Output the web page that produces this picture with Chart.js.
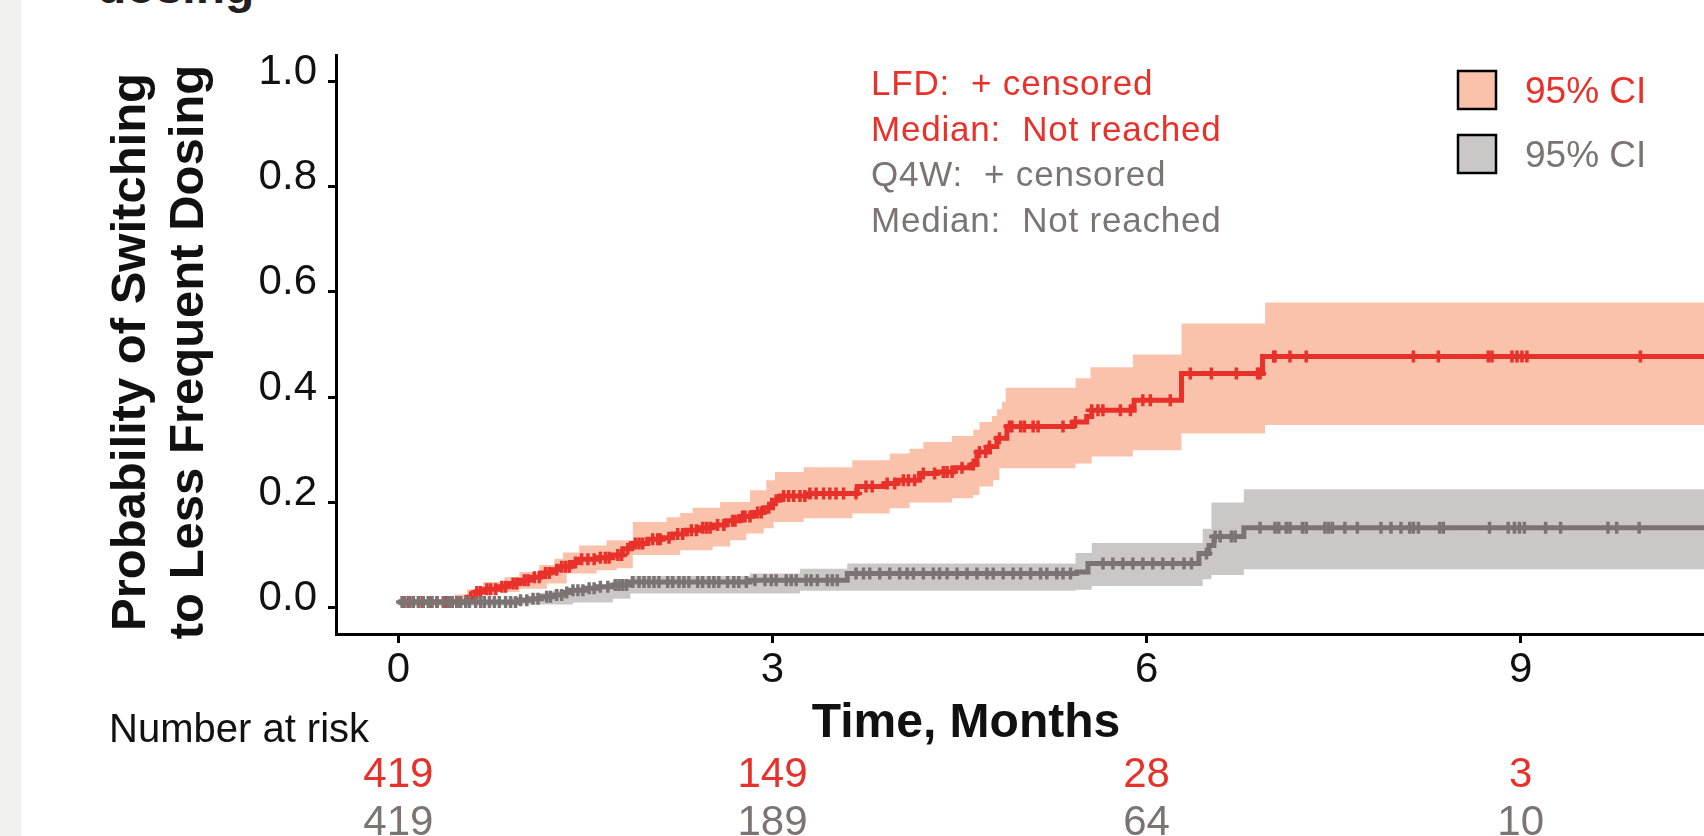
<!DOCTYPE html>
<html>
<head>
<meta charset="utf-8">
<script src="https://cdn.jsdelivr.net/npm/chart.js@4.4.1/dist/chart.umd.min.js"></script>
<style>
  html, body { margin: 0; padding: 0; background: #fff; overflow: hidden; }
  body { width: 1704px; height: 836px; position: relative; font-family: 'Liberation Sans', Arial, sans-serif; }
  #strip { position: absolute; left: 0; top: 0; width: 21px; height: 836px; background: #f1f1ef; }
  #title { position: absolute; left: 97px; top: -37px; font-size: 48px; line-height: 48px; font-weight: bold; color: #231f20; white-space: nowrap; }
  #kmChart { position: absolute; left: 0; top: 0; }
</style>
</head>
<body>
<div id="strip"></div>
<div id="title">dosing</div>
<canvas id="kmChart" width="1704" height="836"></canvas>
<script>
// Kaplan-Meier estimates, cumulative probability of switching
const lfdTime = [0, 0.55, 0.62, 0.70, 0.80, 0.88, 0.97, 1.05, 1.14, 1.22, 1.30, 1.38, 1.45, 1.60, 1.72, 1.80, 1.87, 2.00, 2.12, 2.20, 2.31, 2.42, 2.52, 2.63, 2.74, 2.84, 2.93, 3.00, 3.06, 3.30, 3.68, 3.90, 4.00, 4.18, 4.32, 4.45, 4.60, 4.64, 4.74, 4.80, 4.88, 5.41, 5.52, 5.56, 5.90, 6.28, 6.93, 10.6];
const lfdProb = [0.011, 0.02, 0.03, 0.035, 0.04, 0.046, 0.052, 0.058, 0.066, 0.072, 0.078, 0.086, 0.092, 0.095, 0.100, 0.112, 0.122, 0.130, 0.133, 0.140, 0.147, 0.152, 0.157, 0.165, 0.173, 0.181, 0.190, 0.204, 0.212, 0.217, 0.230, 0.236, 0.242, 0.255, 0.258, 0.266, 0.272, 0.296, 0.306, 0.322, 0.344, 0.353, 0.363, 0.375, 0.394, 0.445, 0.477, 0.477];

const lfdUpTime = [0, 0.45, 0.55, 0.68, 0.85, 0.97, 1.13, 1.25, 1.32, 1.45, 1.67, 1.88, 2.15, 2.26, 2.36, 2.58, 2.82, 2.95, 3.02, 3.25, 3.64, 3.94, 4.10, 4.21, 4.44, 4.61, 4.66, 4.76, 4.80, 4.84, 4.87, 5.43, 5.55, 5.89, 6.28, 6.95, 10.6];
const lfdUpper = [0.011, 0.025, 0.035, 0.049, 0.058, 0.068, 0.081, 0.093, 0.105, 0.118, 0.128, 0.163, 0.172, 0.180, 0.190, 0.201, 0.223, 0.242, 0.258, 0.267, 0.280, 0.293, 0.302, 0.315, 0.326, 0.338, 0.353, 0.364, 0.377, 0.391, 0.418, 0.436, 0.457, 0.481, 0.540, 0.580, 0.580];
const lfdLowTime = [0, 0.55, 0.65, 0.80, 0.97, 1.19, 1.35, 1.59, 1.75, 1.88, 2.26, 2.52, 2.66, 2.79, 2.93, 3.01, 3.25, 3.64, 3.94, 4.10, 4.44, 4.61, 4.66, 4.77, 4.82, 5.43, 5.56, 5.89, 6.28, 6.95, 10.6];
const lfdLower = [0.005, 0.012, 0.024, 0.030, 0.036, 0.046, 0.065, 0.071, 0.075, 0.100, 0.109, 0.116, 0.128, 0.141, 0.151, 0.163, 0.170, 0.179, 0.189, 0.200, 0.208, 0.214, 0.230, 0.242, 0.265, 0.274, 0.287, 0.299, 0.331, 0.347, 0.347];

const q4wTime = [0, 0.95, 1.05, 1.15, 1.24, 1.32, 1.38, 1.50, 1.59, 1.72, 1.86, 2.82, 3.60, 5.44, 5.53, 6.42, 6.50, 6.54, 6.78, 10.6];
const q4wProb = [0.011, 0.014, 0.017, 0.021, 0.024, 0.029, 0.033, 0.037, 0.040, 0.043, 0.049, 0.052, 0.065, 0.068, 0.084, 0.103, 0.118, 0.135, 0.152, 0.152];

const q4wUpTime = [0, 0.90, 1.10, 1.24, 1.45, 1.72, 1.86, 2.82, 3.22, 3.60, 5.43, 5.56, 6.45, 6.52, 6.78, 10.6];
const q4wUpper = [0.015, 0.020, 0.028, 0.033, 0.040, 0.052, 0.060, 0.065, 0.074, 0.084, 0.104, 0.123, 0.150, 0.200, 0.225, 0.225];
const q4wLowTime = [0, 1.00, 1.40, 1.72, 1.86, 3.22, 5.43, 5.56, 6.45, 6.52, 6.78, 10.6];
const q4wLower = [0.004, 0.006, 0.010, 0.017, 0.027, 0.032, 0.034, 0.041, 0.054, 0.062, 0.073, 0.073];

// censoring times (months)
const lfdCensor = [0.08, 0.12, 0.19, 0.25, 0.31, 0.38, 0.43, 0.47, 0.58, 0.63, 0.66, 0.71, 0.74, 0.78, 0.83, 0.86, 0.92, 0.95, 1.01, 1.04, 1.09, 1.13, 1.18, 1.21, 1.27, 1.31, 1.34, 1.37, 1.42, 1.47, 1.52, 1.57, 1.62, 1.66, 1.69, 1.76, 1.79, 1.84, 1.90, 1.93, 1.96, 2.04, 2.08, 2.10, 2.17, 2.24, 2.28, 2.35, 2.39, 2.44, 2.47, 2.50, 2.56, 2.61, 2.68, 2.70, 2.76, 2.78, 2.82, 2.88, 2.91, 2.97, 3.03, 3.09, 3.13, 3.17, 3.22, 3.26, 3.30, 3.35, 3.41, 3.46, 3.51, 3.57, 3.67, 3.75, 3.80, 3.92, 3.98, 4.05, 4.09, 4.14, 4.21, 4.30, 4.37, 4.40, 4.44, 4.52, 4.61, 4.66, 4.71, 4.74, 4.82, 4.90, 4.92, 4.99, 5.02, 5.09, 5.13, 5.33, 5.43, 5.56, 5.61, 5.65, 5.79, 5.87, 5.97, 6.03, 6.19, 6.35, 6.52, 6.72, 6.89, 6.91, 7.02, 7.03, 7.15, 7.28, 8.14, 8.34, 8.74, 8.77, 8.93, 8.97, 9.01, 9.05, 9.96];
const q4wCensor = [0.03, 0.05, 0.09, 0.12, 0.16, 0.20, 0.24, 0.27, 0.31, 0.36, 0.40, 0.43, 0.47, 0.50, 0.54, 0.57, 0.62, 0.66, 0.69, 0.73, 0.77, 0.81, 0.86, 0.90, 0.94, 0.98, 1.03, 1.08, 1.12, 1.19, 1.22, 1.27, 1.31, 1.35, 1.40, 1.44, 1.48, 1.53, 1.57, 1.62, 1.68, 1.74, 1.77, 1.80, 1.83, 1.88, 1.93, 1.97, 2.01, 2.05, 2.09, 2.16, 2.20, 2.25, 2.29, 2.33, 2.40, 2.44, 2.49, 2.53, 2.57, 2.64, 2.69, 2.73, 2.79, 2.86, 2.94, 2.99, 3.03, 3.11, 3.15, 3.19, 3.27, 3.31, 3.36, 3.44, 3.48, 3.52, 3.67, 3.73, 3.78, 3.86, 3.94, 4.02, 4.08, 4.13, 4.21, 4.29, 4.34, 4.40, 4.48, 4.56, 4.64, 4.72, 4.77, 4.85, 4.93, 4.99, 5.07, 5.15, 5.20, 5.28, 5.33, 5.39, 5.65, 5.73, 5.81, 5.89, 5.97, 6.05, 6.13, 6.21, 6.30, 6.36, 6.48, 6.55, 6.59, 6.68, 6.71, 6.91, 7.03, 7.06, 7.12, 7.15, 7.25, 7.28, 7.43, 7.46, 7.49, 7.59, 7.69, 7.88, 7.96, 8.04, 8.11, 8.14, 8.18, 8.35, 8.38, 8.75, 8.90, 8.95, 8.99, 9.03, 9.20, 9.32, 9.70, 9.77, 9.95];

// axes and number at risk
const xTicks = [0, 3, 6, 9];
const yTicks = [0, 0.2, 0.4, 0.6, 0.8, 1.0];
const lfdRisk = [419, 149, 28, 3];
const q4wRisk = [419, 189, 64, 10];

const lfdNotes = ['LFD:  + censored', 'Median:  Not reached'];
const q4wNotes = ['Q4W:  + censored', 'Median:  Not reached'];
const ciLabel = '95% CI';

const RED = '#e8312a';
const RED_BAND = '#fbc2ab';
const GRAY = '#7b7472';
const GRAY_BAND = '#ccc7c7';
const FONT = "'Liberation Sans', Arial, sans-serif";

const toPoints = (xs, ys) => xs.map((x, i) => ({ x: x, y: ys[i] }));

const stepAt = (times, vals, t) => {
    let v = vals[0];
    for (let i = 0; i < times.length; i++) {
        if (times[i] <= t) v = vals[i];
    }
    return v;
};

const censorPoints = (censor, times, vals) => censor.map(t => ({ x: t, y: stepAt(times, vals, t) }));

const stepLine = (data, color, order) => ({
    data: data,
    borderColor: color,
    borderWidth: 5,
    stepped: true,
    pointRadius: 0,
    fill: false,
    order: order
});

const band = (data, color, fill, order) => ({
    data: data,
    borderWidth: 0,
    borderColor: 'transparent',
    backgroundColor: color,
    stepped: true,
    pointRadius: 0,
    fill: fill,
    order: order
});

const censorSet = (data, color, order) => ({
    data: data,
    showLine: false,
    pointStyle: 'cross',
    pointRadius: 6,
    pointBorderWidth: 3.5,
    pointBorderColor: color,
    pointBackgroundColor: color,
    order: order
});

// texts around the plot: axis titles, notes, CI legend, number at risk
const annotations = {
    id: 'annotations',
    afterDraw(chart) {
        const ctx = chart.ctx;
        const x = chart.scales.x;
        ctx.save();

        ctx.fillStyle = '#111';
        ctx.font = `bold 49px ${FONT}`;
        ctx.textAlign = 'center';
        ctx.textBaseline = 'alphabetic';
        const yTitle = ['Probability of Switching', 'to Less Frequent Dosing'];
        [145, 203].forEach((bx, i) => {
            ctx.save();
            ctx.translate(bx, 352);
            ctx.rotate(-Math.PI / 2);
            ctx.fillText(yTitle[i], 0, 0);
            ctx.restore();
        });

        ctx.font = `bold 48px ${FONT}`;
        ctx.fillText('Time, Months', 966, 737);

        ctx.textAlign = 'left';
        ctx.font = `40px ${FONT}`;
        ctx.fillText('Number at risk', 109, 742);

        ctx.textAlign = 'center';
        ctx.font = `42px ${FONT}`;
        xTicks.forEach((t, i) => {
            const px = x.getPixelForValue(t);
            ctx.fillStyle = RED;
            ctx.fillText(String(lfdRisk[i]), px, 787);
            ctx.fillStyle = GRAY;
            ctx.fillText(String(q4wRisk[i]), px, 835);
        });

        ctx.textAlign = 'left';
        ctx.font = `35px ${FONT}`;
        ctx.letterSpacing = '0.8px';
        const notes = lfdNotes.map(s => [s, RED]).concat(q4wNotes.map(s => [s, GRAY]));
        notes.forEach((n, i) => {
            ctx.fillStyle = n[1];
            ctx.fillText(n[0], 871, 95 + i * 45.6);
        });

        ctx.font = `37px ${FONT}`;
        ctx.letterSpacing = '0px';
        [[RED_BAND, RED], [GRAY_BAND, GRAY]].forEach((c, i) => {
            const top = 71 + i * 64;
            ctx.fillStyle = c[0];
            ctx.fillRect(1458, top, 38, 38);
            ctx.strokeStyle = '#000';
            ctx.lineWidth = 2.5;
            ctx.strokeRect(1458, top, 38, 38);
            ctx.fillStyle = c[1];
            ctx.fillText(ciLabel, 1525, top + 32);
        });

        ctx.restore();
    }
};

new Chart(document.getElementById('kmChart'), {
    type: 'line',
    data: {
        datasets: [
            band(toPoints(lfdUpTime, lfdUpper), RED_BAND, '+1', 6),
            band(toPoints(lfdLowTime, lfdLower), RED_BAND, false, 6),
            band(toPoints(q4wUpTime, q4wUpper), GRAY_BAND, '+1', 5),
            band(toPoints(q4wLowTime, q4wLower), GRAY_BAND, false, 5),
            stepLine(toPoints(lfdTime, lfdProb), RED, 3),
            censorSet(censorPoints(lfdCensor, lfdTime, lfdProb), RED, 2),
            stepLine(toPoints(q4wTime, q4wProb), GRAY, 1),
            censorSet(censorPoints(q4wCensor, q4wTime, q4wProb), GRAY, 0)
        ]
    },
    options: {
        responsive: false,
        animation: false,
        events: [],
        layout: {
            autoPadding: false,
            padding: { top: 55, right: 0, bottom: 142, left: 0 }
        },
        plugins: {
            legend: { display: false },
            tooltip: { enabled: false }
        },
        scales: {
            x: {
                type: 'linear',
                min: -0.5,
                max: 10.47,
                afterBuildTicks: scale => { scale.ticks = xTicks.map(v => ({ value: v })); },
                afterFit: scale => {
                    scale.height = 60;
                    scale.paddingLeft = 0;
                    scale.paddingRight = 0;
                },
                border: { display: true, color: '#000', width: 3 },
                grid: { drawOnChartArea: false, drawTicks: true, tickLength: 9, tickWidth: 3, tickColor: '#000' },
                ticks: {
                    color: '#111',
                    padding: 2,
                    maxRotation: 0,
                    font: { family: FONT, size: 42 },
                    callback: v => String(v)
                }
            },
            y: {
                min: -0.05,
                max: 1.05,
                afterBuildTicks: scale => { scale.ticks = yTicks.map(v => ({ value: v })); },
                afterFit: scale => { scale.width = 336; },
                border: { display: true, color: '#000', width: 3 },
                grid: { drawOnChartArea: false, drawTicks: true, tickLength: 8, tickWidth: 3, tickColor: '#000' },
                ticks: {
                    color: '#111',
                    padding: 11,
                    labelOffset: -9,
                    font: { family: FONT, size: 42 },
                    callback: v => v.toFixed(1)
                }
            }
        }
    },
    plugins: [annotations]
});
</script>
</body>
</html>
